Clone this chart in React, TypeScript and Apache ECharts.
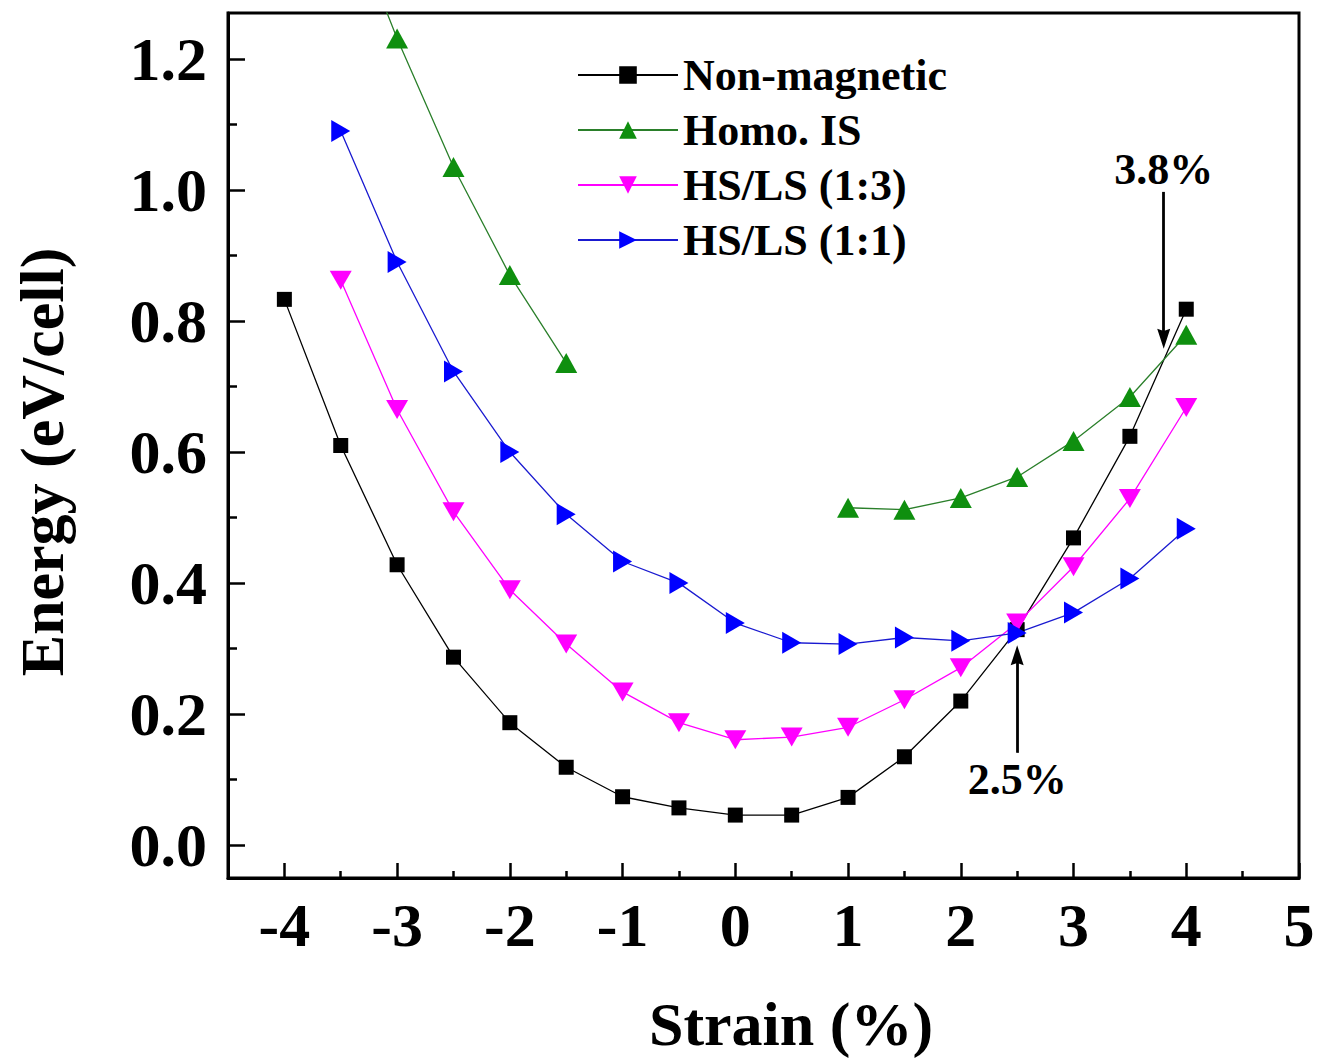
import React, { useEffect, useRef } from "react";
import * as echarts from "echarts";

// ---------- data ----------
const strain = [-4, -3.5, -3, -2.5, -2, -1.5, -1, -0.5, 0, 0.5, 1, 1.5, 2, 2.5, 3, 3.5, 4];
const nonMagnetic = [0.833, 0.61, 0.428, 0.287, 0.187, 0.119, 0.074, 0.057, 0.046, 0.046, 0.073, 0.135, 0.22, 0.329, 0.469, 0.624, 0.818];
const homoIS = [null, 1.45, 1.231, 1.035, 0.87, 0.736, null, null, null, null, 0.515, 0.512, 0.53, 0.562, 0.617, 0.684, 0.779];
const hsls13 = [null, 0.862, 0.665, 0.509, 0.39, 0.307, 0.234, 0.187, 0.161, 0.165, 0.18, 0.222, 0.271, 0.339, 0.425, 0.529, 0.668];
const hsls11 = [null, 1.09, 0.89, 0.723, 0.6, 0.505, 0.433, 0.4, 0.339, 0.309, 0.307, 0.317, 0.312, 0.324, 0.355, 0.407, 0.483];

const seriesNames = ["Non-magnetic", "Homo. IS", "HS/LS (1:3)", "HS/LS (1:1)"];

const xMajorTicks = [-4, -3, -2, -1, 0, 1, 2, 3, 4, 5];
const xMinorTicks = [-3.5, -2.5, -1.5, -0.5, 0.5, 1.5, 2.5, 3.5, 4.5];
const yMajorTicks = [0, 0.2, 0.4, 0.6, 0.8, 1.0, 1.2];
const yMinorTicks = [0.1, 0.3, 0.5, 0.7, 0.9, 1.1];

const annotations = [
  { strain: 2.5, label: "2.5%", from: 0.141, to: 0.29, labelGap: 5 },
  { strain: 3.8, label: "3.8%", from: 0.997, to: 0.773, labelGap: 0 },
];

const FONT = '"Liberation Serif", "Times New Roman", serif';

function pairs(vals: (number | null)[]) {
  const out: any[] = [];
  vals.forEach((v, i) => {
    out.push([strain[i], v === null ? "-" : v]);
  });
  return out;
}

const TRI_RIGHT = "path://M0,0 L10,5 L0,10 Z";
const TRI_DOWN = "path://M0,0 L10,0 L5,10 Z";
const ARROW_HEAD = "path://M6,0 L12,18 L6,16 L0,18 Z";

export default function App() {
  const ref = useRef<HTMLDivElement>(null);

  useEffect(() => {
    if (!ref.current) return;
    const chart = echarts.init(ref.current, null, { renderer: "svg" });

    const axisLineStyle = { color: "#000", width: 3 };
    const tickStyle = { color: "#000", width: 2.5 };
    const labelStyle = {
      fontFamily: FONT,
      fontSize: 62,
      fontWeight: "bold" as const,
      color: "#000",
    };

    const option: any = {
      animation: false,
      backgroundColor: "#fff",
      grid: {
        left: 228,
        right: 33,
        top: 13,
        bottom: 183,
        show: true,
        borderColor: "#000",
        borderWidth: 3,
        backgroundColor: "transparent",
        outerBoundsMode: "none",
      },
      legend: {
        orient: "vertical",
        left: 572,
        top: 48,
        itemWidth: 100,
        itemHeight: 22,
        itemGap: 11,
        data: seriesNames,
        textStyle: {
          fontFamily: FONT,
          fontSize: 44,
          fontWeight: "bold",
          color: "#000",
          lineHeight: 44,
        },
      },
      xAxis: [
        {
          type: "value",
          min: -4.5,
          max: 5,
          position: "bottom",
          axisLine: { show: true, onZero: false, lineStyle: axisLineStyle },
          axisTick: { show: true, inside: true, length: 15, lineStyle: tickStyle, customValues: xMajorTicks },
          axisLabel: { ...labelStyle, margin: 16, customValues: xMajorTicks, formatter: (v: number) => String(v) },
          splitLine: { show: false },
        },
        {
          type: "value",
          min: -4.5,
          max: 5,
          position: "bottom",
          axisLine: { show: false, onZero: false },
          axisTick: { show: true, inside: true, length: 7, lineStyle: tickStyle, customValues: xMinorTicks },
          axisLabel: { show: false },
          splitLine: { show: false },
        },
      ],
      yAxis: [
        {
          type: "value",
          min: -0.05,
          max: 1.27,
          position: "left",
          axisLine: { show: true, onZero: false, lineStyle: axisLineStyle },
          axisTick: { show: true, inside: true, length: 17, lineStyle: tickStyle, customValues: yMajorTicks },
          axisLabel: { ...labelStyle, margin: 21, customValues: yMajorTicks, formatter: (v: number) => v.toFixed(1) },
          splitLine: { show: false },
        },
        {
          type: "value",
          min: -0.05,
          max: 1.27,
          position: "left",
          axisLine: { show: false, onZero: false },
          axisTick: { show: true, inside: true, length: 9, lineStyle: tickStyle, customValues: yMinorTicks },
          axisLabel: { show: false },
          splitLine: { show: false },
        },
      ],
      series: [
        {
          name: seriesNames[0],
          type: "line",
          xAxisIndex: 0,
          yAxisIndex: 0,
          data: pairs(nonMagnetic),
          symbol: "rect",
          symbolSize: 15,
          color: "#000000",
          lineStyle: { width: 1.3, color: "#000" },
          itemStyle: { color: "#000" },
          clip: true,
          connectNulls: false,
          markLine: {
            silent: true,
            animation: false,
            symbol: ["none", ARROW_HEAD],
            symbolSize: 18,
            lineStyle: { color: "#000", width: 2.8, type: "solid" },
            label: {
              show: true,
              position: "start",
              fontFamily: FONT,
              fontSize: 44,
              fontWeight: "bold",
              color: "#000",
            },
            emphasis: { disabled: true },
            data: annotations.map((a) => [
              {
                coord: [a.strain, a.from],
                symbol: "none",
                label: { formatter: a.label, distance: a.labelGap },
              },
              {
                coord: [a.strain, a.to],
                symbol: ARROW_HEAD,
                symbolSize: [13, 20],
                itemStyle: { color: "#000" },
              },
            ]),
          },
        },
        {
          name: seriesNames[1],
          type: "line",
          xAxisIndex: 0,
          yAxisIndex: 0,
          data: pairs(homoIS),
          symbol: "triangle",
          symbolSize: [22, 20],
          color: "#0f8f0f",
          lineStyle: { width: 1.3, color: "#2a7f2a" },
          itemStyle: { color: "#0f8f0f" },
          clip: true,
          connectNulls: false,
        },
        {
          name: seriesNames[2],
          type: "line",
          xAxisIndex: 0,
          yAxisIndex: 0,
          data: pairs(hsls13),
          symbol: TRI_DOWN,
          symbolSize: [22, 19],
          color: "#ff00ff",
          lineStyle: { width: 1.3, color: "#ff00ff" },
          itemStyle: { color: "#ff00ff" },
          clip: true,
          connectNulls: false,
        },
        {
          name: seriesNames[3],
          type: "line",
          xAxisIndex: 0,
          yAxisIndex: 0,
          data: pairs(hsls11),
          symbol: TRI_RIGHT,
          symbolSize: [19, 22],
          color: "#0000ff",
          lineStyle: { width: 1.3, color: "#1a1ad0" },
          itemStyle: { color: "#0000ff" },
          clip: true,
          connectNulls: false,
        },
      ],
      graphic: [
        {
          type: "text",
          x: 791,
          y: 1024,
          style: {
            text: "Strain (%)",
            font: `bold 62px ${FONT}`,
            fill: "#000",
            textAlign: "center",
            textVerticalAlign: "middle",
          },
        },
        {
          type: "text",
          x: 42,
          y: 462,
          rotation: Math.PI / 2,
          style: {
            text: "Energy (eV/cell)",
            font: `bold 62px ${FONT}`,
            fill: "#000",
            textAlign: "center",
            textVerticalAlign: "middle",
          },
        },
      ],
    };

    chart.setOption(option);
    return () => {
      chart.dispose();
    };
  }, []);

  return (
    <div
      ref={ref}
      style={{ position: "absolute", left: 0, top: 0, width: 1332, height: 1061, background: "#fff" }}
    />
  );
}
